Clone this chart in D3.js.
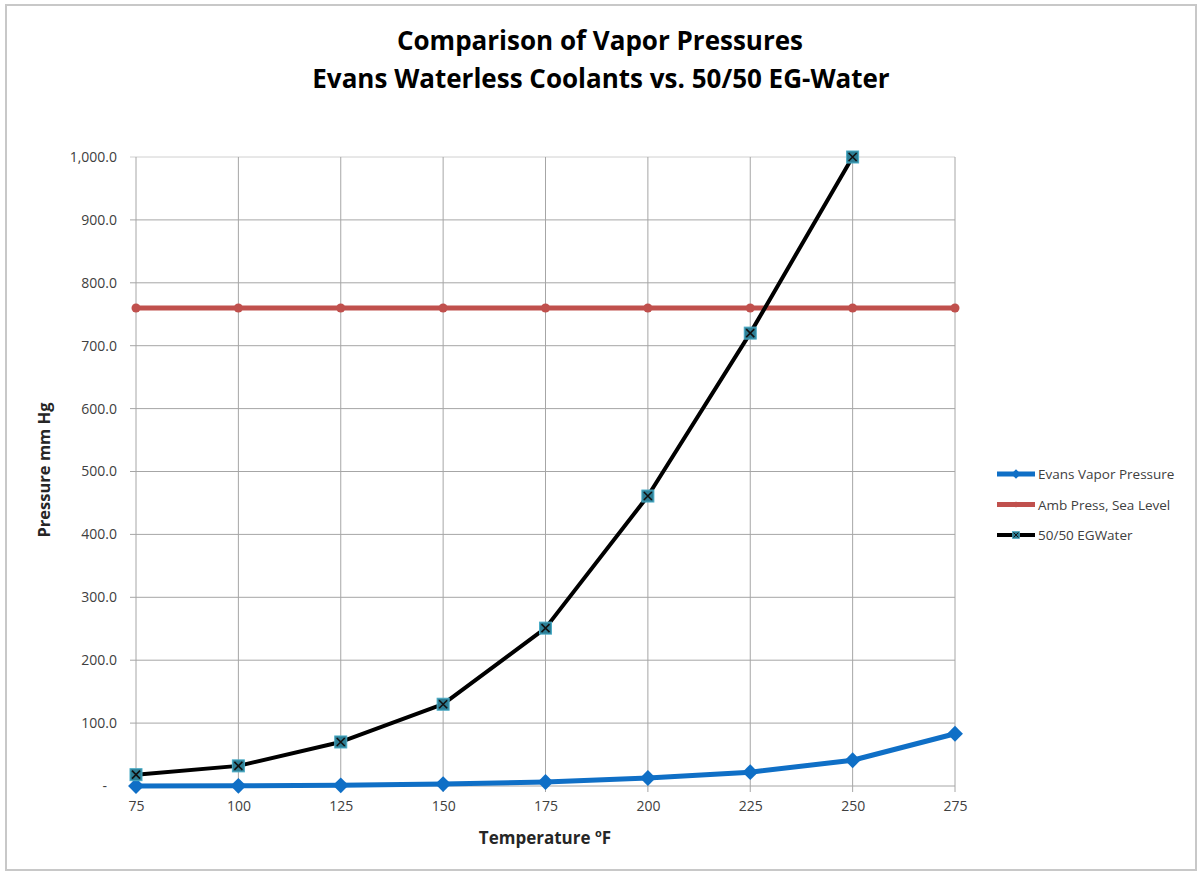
<!DOCTYPE html>
<html>
<head>
<meta charset="utf-8">
<script src="https://cdn.jsdelivr.net/npm/d3@7"></script>
<style>
  body { margin: 0; background: #fff; }
  text { font-family: "Open Sans", "Noto Sans", sans-serif; }
  .tick text { fill: #404040; font-size: 14px; }
</style>
</head>
<body>
<svg id="chart" width="1203" height="872"></svg>
<script>
// temperatures (deg F)
const temps = [75, 100, 125, 150, 175, 200, 225, 250, 275]
// vapor pressure, mm Hg
const evansVapor = [0, 0.3, 1, 3, 6.4, 12.7, 22, 41, 83]
const ambPress = [760, 760, 760, 760, 760, 760, 760, 760, 760]
const egWater = [18, 32, 70, 130, 251, 461, 720, 1000, null]
const yTicks = [0, 100, 200, 300, 400, 500, 600, 700, 800, 900, 1000]

const svg = d3.select("#chart")

//outer frame
svg.append("rect").attr("x", 6).attr("y", 5).attr("width", 1190).attr("height", 865)
    .attr("fill", "#fff").attr("stroke", "#c8c8c8").attr("stroke-width", 2)

const x = d3.scaleLinear().domain([75, 275]).range([136, 955])
const y = d3.scaleLinear().domain([0, 1000]).range([786, 157])

//grid
svg.append("g").selectAll("line").data(yTicks).join("line")
    .attr("x1", 130).attr("x2", 955)
    .attr("y1", d => y(d)).attr("y2", d => y(d))
    .attr("stroke", d => d === 1000 ? "#d0d0d0" : "#a6a6a6").attr("stroke-width", 1)
svg.append("g").selectAll("line").data(temps).join("line")
    .attr("x1", d => x(d)).attr("x2", d => x(d))
    .attr("y1", y(1000)).attr("y2", 792)
    .attr("stroke", "#a6a6a6").attr("stroke-width", 1)

//axes (labels only, lines are drawn as grid above)
const yAxis = svg.append("g").attr("transform", "translate(136,0)")
    .call(d3.axisLeft(y).tickValues(yTicks).tickSize(0).tickPadding(19)
        .tickFormat(d => d === 0 ? "-" : d3.format(",.1f")(d)))
yAxis.select(".domain").remove()
yAxis.selectAll(".tick").filter(d => d === 0).select("text").attr("dx", -10)

const xAxis = svg.append("g").attr("transform", "translate(0,786)")
    .call(d3.axisBottom(x).tickValues(temps).tickSize(0).tickPadding(15).tickFormat(d3.format("d")))
xAxis.select(".domain").remove()

//axis titles
svg.append("text").attr("transform", "translate(50,470) rotate(-90)")
    .attr("text-anchor", "middle").attr("font-size", 16.5).attr("font-weight", "bold")
    .attr("fill", "#262626").text("Pressure mm Hg")
const xt = svg.append("text").attr("x", 545).attr("y", 844)
    .attr("text-anchor", "middle").attr("font-size", 17).attr("font-weight", "bold").attr("fill", "#262626")
xt.append("tspan").text("Temperature ")
xt.append("tspan").attr("font-size", 11).attr("dy", -7).text("o")
xt.append("tspan").attr("dy", 7).text("F")

//title
svg.append("text").attr("x", 600).attr("y", 50).attr("text-anchor", "middle")
    .attr("font-size", 26).attr("font-weight", "bold").attr("fill", "#000")
    .text("Comparison of Vapor Pressures")
svg.append("text").attr("x", 601).attr("y", 88).attr("text-anchor", "middle")
    .attr("font-size", 26).attr("font-weight", "bold").attr("fill", "#000")
    .text("Evans Waterless Coolants vs. 50/50 EG-Water")

const series = [
    {name: "Evans Vapor Pressure", values: evansVapor, color: "#0f6fc6", width: 5, marker: "diamond"},
    {name: "Amb Press, Sea Level", values: ambPress, color: "#c0504d", width: 5, marker: "circle"},
    {name: "50/50 EGWater", values: egWater, color: "#000", width: 4, marker: "xsquare"}
]

const line = d3.line().defined(d => d.v != null).x(d => x(d.t)).y(d => y(d.v))

function drawMarker(g, kind, color) {
    if (kind === "diamond") {
        g.append("path").attr("d", d3.symbol(d3.symbolDiamond2, 160)()).attr("fill", color)
    } else if (kind === "circle") {
        g.append("circle").attr("r", 4.5).attr("fill", color)
    } else {
        g.append("rect").attr("x", -6).attr("y", -6).attr("width", 12).attr("height", 12)
            .attr("fill", "#2d7f96").attr("stroke", "#4bacc6").attr("stroke-width", 1)
        g.append("path").attr("d", "M-4,-4L4,4M-4,4L4,-4").attr("stroke", "#111").attr("stroke-width", 1.6)
    }
}

series.forEach(s => {
    const pts = temps.map((t, i) => ({t: t, v: s.values[i]}))
    svg.append("path").attr("d", line(pts)).attr("fill", "none")
        .attr("stroke", s.color).attr("stroke-width", s.width).attr("stroke-linejoin", "round")
    pts.filter(d => d.v != null).forEach(d => {
        const g = svg.append("g").attr("transform", `translate(${x(d.t)},${y(d.v)})`)
        drawMarker(g, s.marker, s.color)
    })
})

//legend
const legend = svg.append("g")
series.forEach((s, i) => {
    const ly = 474 + i * 30.5
    legend.append("line").attr("x1", 997).attr("x2", 1035).attr("y1", ly).attr("y2", ly)
        .attr("stroke", s.color).attr("stroke-width", s.width)
    const g = legend.append("g").attr("transform", `translate(1016,${ly}) scale(0.6)`)
    drawMarker(g, s.marker, s.color)
    legend.append("text").attr("x", 1038).attr("y", ly + 5).attr("font-size", 13.5)
        .attr("fill", "#404040").text(s.name)
})
</script>
</body>
</html>
